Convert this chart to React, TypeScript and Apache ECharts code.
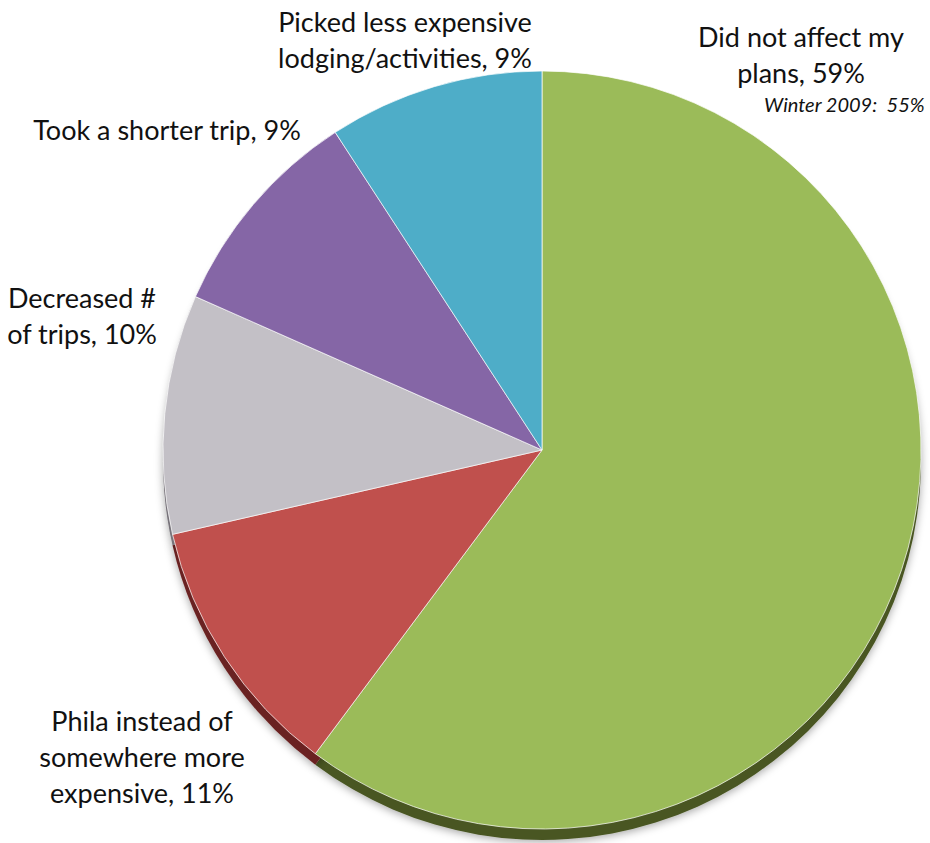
import React, { useEffect, useRef } from "react";
import * as echarts from "echarts";

const categories = [
  "Did not affect my\nplans",
  "Phila instead of\nsomewhere more\nexpensive",
  "Decreased #\nof trips",
  "Took a shorter trip",
  "Picked less expensive\nlodging/activities",
];
const values = [59, 11, 10, 9, 9];
const colors = ["#9BBB59", "#C0504D", "#C3C0C6", "#8566A6", "#4EADC8"];
const rimColors = ["#4A5624", "#6B2322", "#77737A", "#4A3764", "#25687A"];
const note = "Winter 2009:  55%";

const labelPos: { x: number; y: number }[] = [
  { x: 801, y: 54 },
  { x: 142, y: 756 },
  { x: 82, y: 315 },
  { x: 167, y: 129 },
  { x: 405, y: 39 },
];

export default function App() {
  const ref = useRef<HTMLDivElement>(null);
  useEffect(() => {
    if (!ref.current) return;
    const chart = echarts.init(ref.current, null, { renderer: "svg" });
    const font = "Lato, 'Open Sans', sans-serif";
    chart.setOption({
      animation: false,
      backgroundColor: "#ffffff",
      series: [
        {
          type: "pie",
          silent: true,
          center: [542, 461],
          radius: 379,
          startAngle: 90,
          z: 1,
          label: { show: false },
          labelLine: { show: false },
          itemStyle: {
            shadowBlur: 8,
            shadowColor: "rgba(0,0,0,0.35)",
            shadowOffsetY: 2,
          },
          data: values.map((v, i) => ({
            value: v,
            name: categories[i],
            itemStyle: { color: rimColors[i] },
          })),
        },
        {
          type: "pie",
          center: [542, 450],
          radius: 379,
          startAngle: 90,
          z: 2,
          avoidLabelOverlap: false,
          itemStyle: {
            borderColor: "rgba(255,255,255,0.7)",
            borderWidth: 1,
          },
          label: {
            show: true,
            position: "outside",
            formatter: (p: any) => `${p.name}, ${p.value}%`,
            fontFamily: font,
            fontSize: 27,
            lineHeight: 36,
            color: "#111111",
            align: "center",
            overflow: "none",
            width: 500,
          },
          labelLine: { show: false },
          labelLayout: (params: any) => {
            const pos = labelPos[params.dataIndex];
            return {
              x: pos.x,
              y: pos.y,
              align: "center",
              verticalAlign: "middle",
              hideOverlap: false,
            };
          },
          data: values.map((v, i) => ({
            value: v,
            name: categories[i],
            itemStyle: { color: colors[i] },
          })),
        },
      ],
      graphic: [
        {
          type: "text",
          right: 5,
          top: 94,
          style: {
            text: note,
            fontFamily: font,
            fontStyle: "italic",
            fontSize: 20,
            fill: "#111111",
          },
        },
      ],
    });
    return () => chart.dispose();
  }, []);
  return (
    <div
      ref={ref}
      style={{ position: "fixed", left: 0, top: 0, width: 930, height: 843 }}
    />
  );
}
